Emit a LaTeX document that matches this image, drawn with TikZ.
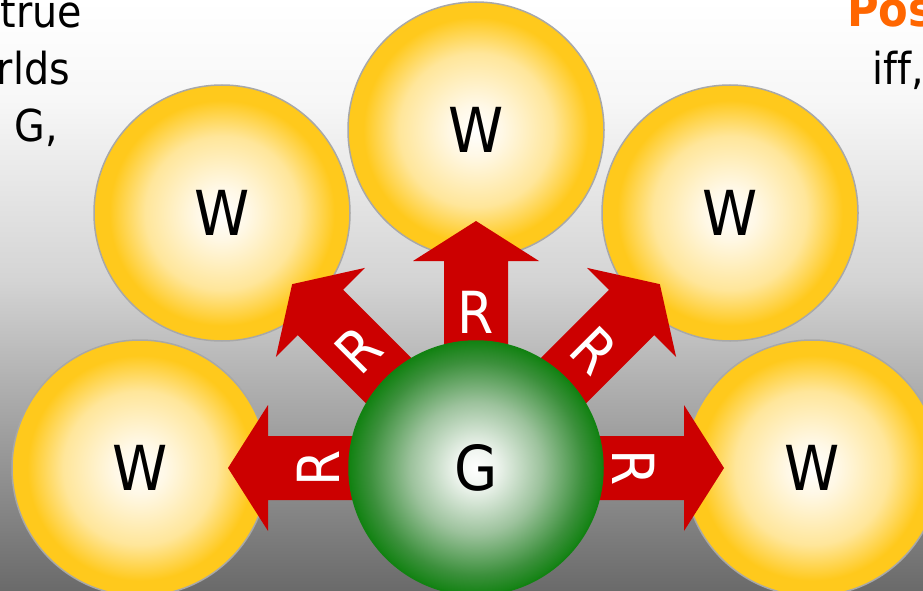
\documentclass[tikz,border=0pt]{standalone}
\usepackage{fontspec}
\setmainfont[Ligatures=NoCommon]{DejaVu Sans Condensed}
\newfontfamily\boldslide{DejaVu Sans Condensed Bold}

% palette
\definecolor{bgbot}{HTML}{6A6A6A}
\definecolor{bgA}{HTML}{A0A0A0}
\definecolor{bgB}{HTML}{D4D4D4}
\definecolor{bgC}{HTML}{F7F7F7}
\definecolor{wcream}{HTML}{FFF8E6}
\definecolor{wmid}{HTML}{FFE69A}
\definecolor{wgold}{HTML}{FFC91C}
\definecolor{wrim}{HTML}{A8A8A8}
\definecolor{gpale}{HTML}{EEF4EE}
\definecolor{gmid}{HTML}{9CC29C}
\definecolor{gdeep}{HTML}{3C903C}
\definecolor{gedge}{HTML}{128212}
\definecolor{arrowred}{HTML}{CC0000}
\definecolor{headorange}{HTML}{FF6600}

% slide background, light at the top and darker towards the bottom
\pgfdeclareverticalshading{slidebg}{100bp}{color(0bp)=(bgbot); color(25bp)=(bgbot);
  color(38.6bp)=(bgA); color(51.3bp)=(bgB); color(66.5bp)=(bgC);
  color(75bp)=(white); color(100bp)=(white)}
% world discs
\pgfdeclareradialshading{wfill}{\pgfpoint{0bp}{0bp}}{color(0bp)=(white);
  color(5bp)=(wcream); color(15bp)=(wmid); color(22bp)=(wgold);
  color(25bp)=(wgold); color(50bp)=(wgold)}
% the actual world G
\pgfdeclareradialshading{gfill}{\pgfpoint{0bp}{0bp}}{color(0bp)=(white);
  color(4bp)=(gpale); color(13bp)=(gmid); color(21bp)=(gdeep);
  color(25bp)=(gedge); color(50bp)=(gedge)}

\begin{document}
\begin{tikzpicture}[x=1pt,y=-1pt,
  world/.style={circle, inner sep=0pt, minimum size=256pt, shading=wfill,
    draw=wrim, line width=1.5pt, font=\fontsize{62}{70}\selectfont},
  home/.style={circle, inner sep=0pt, minimum size=254pt, shading=gfill,
    draw=gedge, line width=1.5pt, font=\fontsize{62}{70}\selectfont},
  rarrow/.style={fill=arrowred},
  rlabel/.style={text=white, inner sep=0pt, font=\fontsize{58}{64}\selectfont},
  bodytext/.style={inner sep=0pt, font=\fontsize{44}{52}\selectfont}]

\path[use as bounding box] (0,0) rectangle (923,591);
\clip (0,0) rectangle (923,591);
\fill[shading=slidebg] (0,0) rectangle (923,591);

% surrounding slide text
\node[bodytext, anchor=base east] (t1) at (82,28) {true};
\node[bodytext, anchor=base east] (t2) at (70,85) {rlds};
\node[bodytext, anchor=base east] (t3) at (58,142) {G,};
\node[bodytext, anchor=base west, text=headorange, font=\fontsize{48}{56}\boldslide] (t4) at (847,27) {Pos};
\node[bodytext, anchor=base west] (t5) at (872,85) {iff,};

% accessible worlds
\node[world] (wl)  at (140,468) {W};
\node[world] (wul) at (222,213) {W};
\node[world] (wt)  at (476,130) {W};
\node[world] (wur) at (730,213) {W};
\node[world] (wr)  at (812,468) {W};

% accessibility arrows out of G
\coordinate (gc) at (476,468);
\foreach \ang/\len/\d/\nm in {180/248/158/rl, 135/260/167/rul, 90/247/156/rt, 45/260/167/rur, 0/248/158/rr}{
  \begin{scope}[shift={(gc)}, rotate=\ang]
    \fill[rarrow] (0,32) -- ({\len-40},32) -- ({\len-40},63) -- (\len,0)
      -- ({\len-40},-63) -- ({\len-40},-32) -- (0,-32) -- cycle;
    \node[rlabel, rotate=\ang-90] (\nm) at (\d,0) {R};
  \end{scope}
}

% actual world
\node[home] (g) at (gc) {G};
\end{tikzpicture}
\end{document}
